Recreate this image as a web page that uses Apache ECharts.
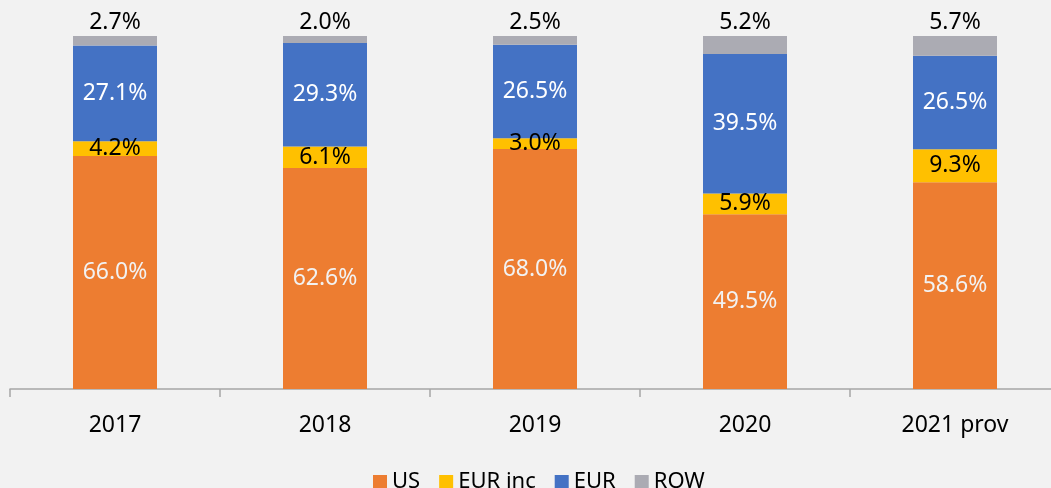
<!DOCTYPE html>
<html>
<head>
<meta charset="utf-8">
<script src="https://cdn.jsdelivr.net/npm/echarts@6/dist/echarts.min.js"></script>
<style>html,body{margin:0;padding:0;background:#f2f2f2;overflow:hidden;}#c{width:1070px;height:488px;}</style>
</head>
<body>
<div id="c"></div>
<script>
const categories = ['2017', '2018', '2019', '2020', '2021 prov'];
const usValues = [66.0, 62.6, 68.0, 49.5, 58.6];
const eurIncValues = [4.2, 6.1, 3.0, 5.9, 9.3];
const eurValues = [27.1, 29.3, 26.5, 39.5, 26.5];
const rowValues = [2.7, 2.0, 2.5, 5.2, 5.7];
const seriesNames = ['US', 'EUR inc', 'EUR', 'ROW'];

const FONT = 'Noto Sans';
const chart = echarts.init(document.getElementById('c'));
const fmt = p => p.value.toFixed(1) + '%';
function mk(name, data, color, labelColor, pos) {
  return {
    name, type: 'bar', stack: 'total', data, barWidth: '40%',
    itemStyle: { color },
    label: {
      show: true, position: pos || 'inside', formatter: fmt,
      color: labelColor, fontFamily: FONT, fontSize: 23, distance: 2
    },
    emphasis: { disabled: true }
  };
}
chart.setOption({
  backgroundColor: '#f2f2f2',
  animation: false,
  grid: { left: 10, top: 36, width: 1050, bottom: 99, containLabel: false },
  legend: {
    bottom: -10, left: 368,
    itemWidth: 14, itemHeight: 14, itemGap: 19,
    icon: 'rect',
    textStyle: { fontFamily: FONT, fontSize: 22, color: '#000' },
    data: seriesNames
  },
  xAxis: {
    type: 'category', data: categories,
    axisLine: { lineStyle: { color: '#a6a6a6', width: 1.5 } },
    axisTick: { show: true, length: 8, lineStyle: { color: '#a6a6a6', width: 1.5 } },
    axisLabel: { fontFamily: FONT, fontSize: 23, color: '#000', margin: 25 }
  },
  yAxis: { type: 'value', min: 0, max: 100, show: false, splitLine: { show: false } },
  series: [
    mk('US', usValues, '#ED7D31', '#f2f2f2'),
    mk('EUR inc', eurIncValues, '#FFC000', '#000'),
    mk('EUR', eurValues, '#4472C4', '#fff'),
    mk('ROW', rowValues, '#ABABB3', '#000', 'top')
  ]
});
</script>
</body>
</html>
